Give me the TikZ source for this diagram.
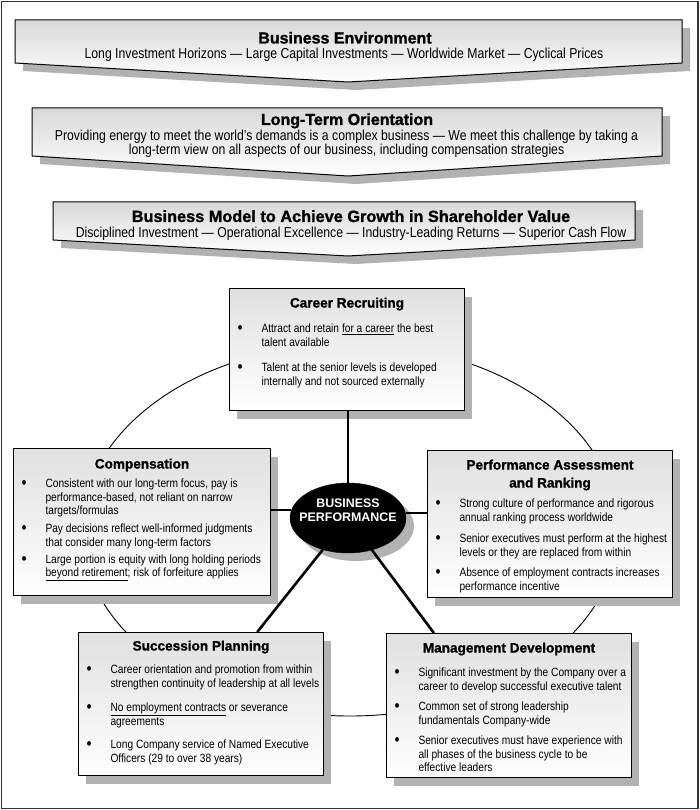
\documentclass[tikz,border=0pt]{standalone}
\usepackage{fontspec}
\setmainfont{Liberation Sans}
\newfontfamily\nfont[FakeStretch=0.85]{Liberation Sans}
\newfontfamily\bfontx[FakeBold=1.2]{Liberation Sans Bold}
\newfontfamily\hubfont{Liberation Sans Bold}
\usetikzlibrary{shapes.geometric,shadows}

\newcommand\ttl{\bfontx\fontsize{13.6}{14}\selectfont}
\newcommand\bodyf{\nfont\fontsize{12}{14}\selectfont}
\newcommand\bul{\raisebox{-1pt}{\fontsize{17}{14}\selectfont\textbullet}}
\newcommand\bxtitle[2]{{\centering\ttl\rule{0pt}{#1}#2\par}}
\newcommand\itm[2]{\par\vspace{#1}{\noindent\hangindent=32pt\hangafter=1\rightskip=-40pt plus 1fil\parfillskip=0pt plus 1fil\makebox[32pt][l]{\hspace{8pt}\bul}#2\par}}

\tikzset{
  frame/.style={draw=black!80, line width=1.8pt},
  ring/.style={draw=black, line width=0.9pt},
  bannershadow/.style={fill=black!30, draw=none},
  banner/.style={draw=black, line width=1pt, top color=black!15, bottom color=white},
  btitle/.style={anchor=base, inner sep=0pt, font=\bfontx\fontsize{16}{18}\selectfont},
  bsub/.style={anchor=base, inner sep=0pt, font=\nfont\fontsize{14.4}{16}\selectfont},
  infobox/.style={draw=black, line width=1pt, top color=black!12, bottom color=white,
    anchor=north west, inner sep=0pt,
    drop shadow={shadow xshift=7pt, shadow yshift=-8pt, fill=black!30, opacity=1}},
  hub/.style={ellipse, fill=black, draw=black, minimum width=116pt, minimum height=70pt,
    inner sep=0pt,
    drop shadow={shadow xshift=8pt, shadow yshift=-8pt, fill=black!30, opacity=1}},
  hubtext/.style={inner sep=0pt, text=white, align=center, font=\hubfont\fontsize{12.4}{14.5}\selectfont},
  conn/.style={line width=2.6pt, draw=black},
}

\begin{document}
\begin{tikzpicture}[x=1pt,y=-1pt]
\useasboundingbox (0,0) rectangle (700,810);
\fill[white] (0,0) rectangle (700,810);
\draw[frame] (1.5,1.5) rectangle (698,808.5);

% big ring
\draw[ring] (350,530) ellipse [x radius=268, y radius=186];

% banner 1
\fill[bannershadow, shift={(8,8)}] (15,20) -- (682,20) -- (682,63) -- (348,82) -- (15,63) -- cycle;
\path[banner] (15,20) -- (682,20) -- (682,63) -- (348,82) -- (15,63) -- cycle;
\node[btitle] (b1t) at (345,43.5) {Business Environment};
\node[bsub] (b1s) at (344,58.5) {Long Investment Horizons — Large Capital Investments — Worldwide Market — Cyclical Prices};

% banner 2
\fill[bannershadow, shift={(8,8)}] (32,108) -- (662,108) -- (662,156) -- (348,176) -- (32,156) -- cycle;
\path[banner] (32,108) -- (662,108) -- (662,156) -- (348,176) -- (32,156) -- cycle;
\node[btitle] (b2t) at (347,125) {Long-Term Orientation};
\node[bsub] (b2s1) at (346.5,140.5) {Providing energy to meet the world’s demands is a complex business — We meet this challenge by taking a};
\node[bsub] (b2s2) at (346.5,154.5) {long-term view on all aspects of our business, including compensation strategies};

% banner 3
\fill[bannershadow, shift={(8,8)}] (53,202) -- (635,202) -- (635,240) -- (348,256) -- (53,240) -- cycle;
\path[banner] (53,202) -- (635,202) -- (635,240) -- (348,256) -- (53,240) -- cycle;
\node[btitle, font=\bfontx\fontsize{16.3}{18}\selectfont] (b3t) at (351,222) {Business Model to Achieve Growth in Shareholder Value};
\node[bsub] (b3s) at (351,237) {Disciplined Investment — Operational Excellence — Industry-Leading Returns — Superior Cash Flow};

% boxes
\node[infobox] (career) at (229,288) {\parbox[c][122pt][t]{235pt}{\bodyf
  \bxtitle{19pt}{Career Recruiting}%
  \itm{11pt}{Attract and retain \underline{for a career} the best\\talent available}%
  \itm{11pt}{Talent at the senior levels is developed\\internally and not sourced externally}}};

\node[infobox] (comp) at (13,448) {\parbox[c][147pt][t]{257pt}{\bodyf\baselineskip=13.5pt
  \bxtitle{20pt}{Compensation}%
  \itm{5.5pt}{Consistent with our long-term focus, pay is\\performance-based, not reliant on narrow\\targets/formulas}%
  \itm{4.5pt}{Pay decisions reflect well-informed judgments\\that consider many long-term factors}%
  \itm{3.5pt}{Large portion is equity with long holding periods\\\underline{beyond retirement}; risk of forfeiture applies}}};

\node[infobox] (perf) at (427,450) {\parbox[c][147pt][t]{245pt}{\bodyf
  {\centering\ttl\baselineskip=18pt\rule{0pt}{19pt}Performance Assessment\\and Ranking\par}%
  \itm{6pt}{Strong culture of performance and rigorous\\annual ranking process worldwide}%
  \itm{7pt}{Senior executives must perform at the highest\\levels or they are replaced from within}%
  \itm{6pt}{Absence of employment contracts increases\\performance incentive}}};

\node[infobox] (succ) at (78,632) {\parbox[c][143pt][t]{245pt}{\bodyf
  \bxtitle{18pt}{Succession Planning}%
  \itm{9pt}{Career orientation and promotion from within\\strengthen continuity of leadership at all levels}%
  \itm{10pt}{\underline{No employment contracts} or severance\\agreements}%
  \itm{9pt}{Long Company service of Named Executive\\Officers (29 to over 38 years)}}};

\node[infobox] (mgmt) at (386,633) {\parbox[c][144pt][t]{245pt}{\bodyf\baselineskip=13.5pt
  \bxtitle{19pt}{Management Development}%
  \itm{10.5pt}{Significant investment by the Company over a\\career to develop successful executive talent}%
  \itm{7pt}{Common set of strong leadership\\fundamentals Company-wide}%
  \itm{7pt}{Senior executives must have experience with\\all phases of the business cycle to be\\effective leaders}}};

% hub
\node[hub] (bp) at (348,518) {};
\node[hubtext] (bptext) at (348,510) {BUSINESS\\PERFORMANCE};

% connectors
\draw[conn] (bp.north) -- (bp.north |- career.south);
\draw[conn] (bp.172) -- (bp.172 -| comp.east);
\draw[conn] (bp.5) -- (bp.5 -| perf.west);
\draw[conn] (bp) -- (succ.52.7);
\draw[conn] (bp) -- (mgmt.136.7);
\end{tikzpicture}
\end{document}
